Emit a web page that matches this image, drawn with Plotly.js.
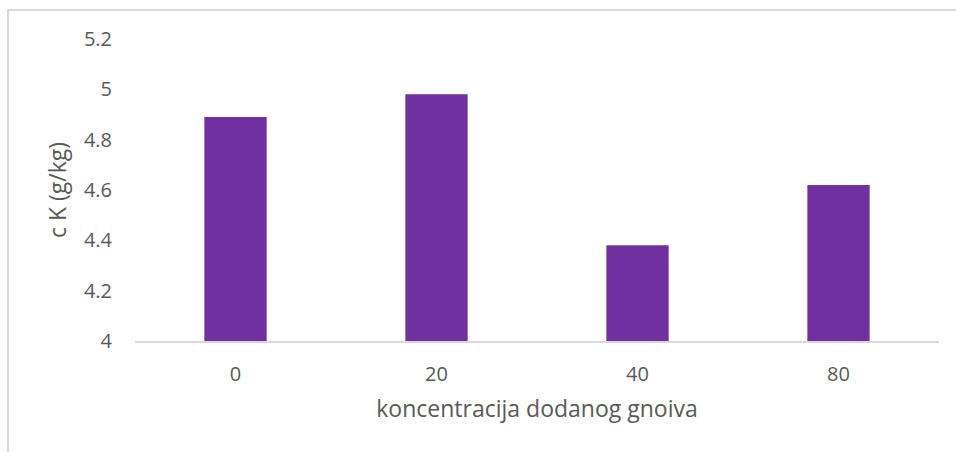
<!DOCTYPE html>
<html>
<head>
<meta charset="utf-8">
<script src="https://cdn.plot.ly/plotly-3.0.1.min.js"></script>
<style>
  html, body { margin: 0; padding: 0; background: #ffffff; }
  #wrap { position: absolute; left: 7px; top: 9px; width: 949px; height: 443px;
          border-left: 2px solid #d9d9d9; border-top: 2px solid #d9d9d9; box-sizing: border-box; }
  #chart { width: 947px; height: 441px; }
</style>
</head>
<body>
<div id="wrap"><div id="chart"></div></div>
<script>
const categories = ["0", "20", "40", "80"];
const values = [4.89, 4.98, 4.38, 4.62];
const yTicks = [4, 4.2, 4.4, 4.6, 4.8, 5, 5.2];
const yTickLabels = ["4", "4.2", "4.4", "4.6", "4.8", "5", "5.2"];
const xTitle = "koncentracija dodanog gnoiva";
const yTitle = "c K (g/kg)";

const textColor = "#595959";
const fontFamily = "'Open Sans', 'Noto Sans', sans-serif";

const trace = {
  type: "bar",
  x: categories,
  y: values,
  base: 0,
  marker: { color: "#7030A0", line: { width: 0 } },
  width: 0.31,
  hoverinfo: "none"
};

const layout = {
  width: 947,
  height: 441,
  margin: { l: 126, r: 17, t: 28, b: 111 },
  paper_bgcolor: "#ffffff",
  plot_bgcolor: "#ffffff",
  showlegend: false,
  font: { family: fontFamily, color: textColor, size: 20 },
  xaxis: {
    type: "category",
    tickvals: categories,
    ticktext: categories,
    showgrid: false,
    zeroline: false,
    showline: true,
    linecolor: "#d9d9d9",
    linewidth: 2,
    ticks: "",
    ticklabelstandoff: 14,
    tickfont: { family: fontFamily, size: 20, color: textColor },
    title: { text: xTitle, font: { family: fontFamily, size: 23, color: textColor }, standoff: 15 }
  },
  yaxis: {
    range: [4, 5.2],
    tickvals: yTicks,
    ticktext: yTickLabels,
    showgrid: false,
    zeroline: false,
    showline: false,
    ticks: "",
    ticklabelstandoff: 22,
    tickfont: { family: fontFamily, size: 20, color: textColor },
    title: { text: yTitle, font: { family: fontFamily, size: 23, color: textColor }, standoff: 10 }
  }
};

Plotly.newPlot("chart", [trace], layout, { displayModeBar: false, staticPlot: true });
</script>
</body>
</html>
